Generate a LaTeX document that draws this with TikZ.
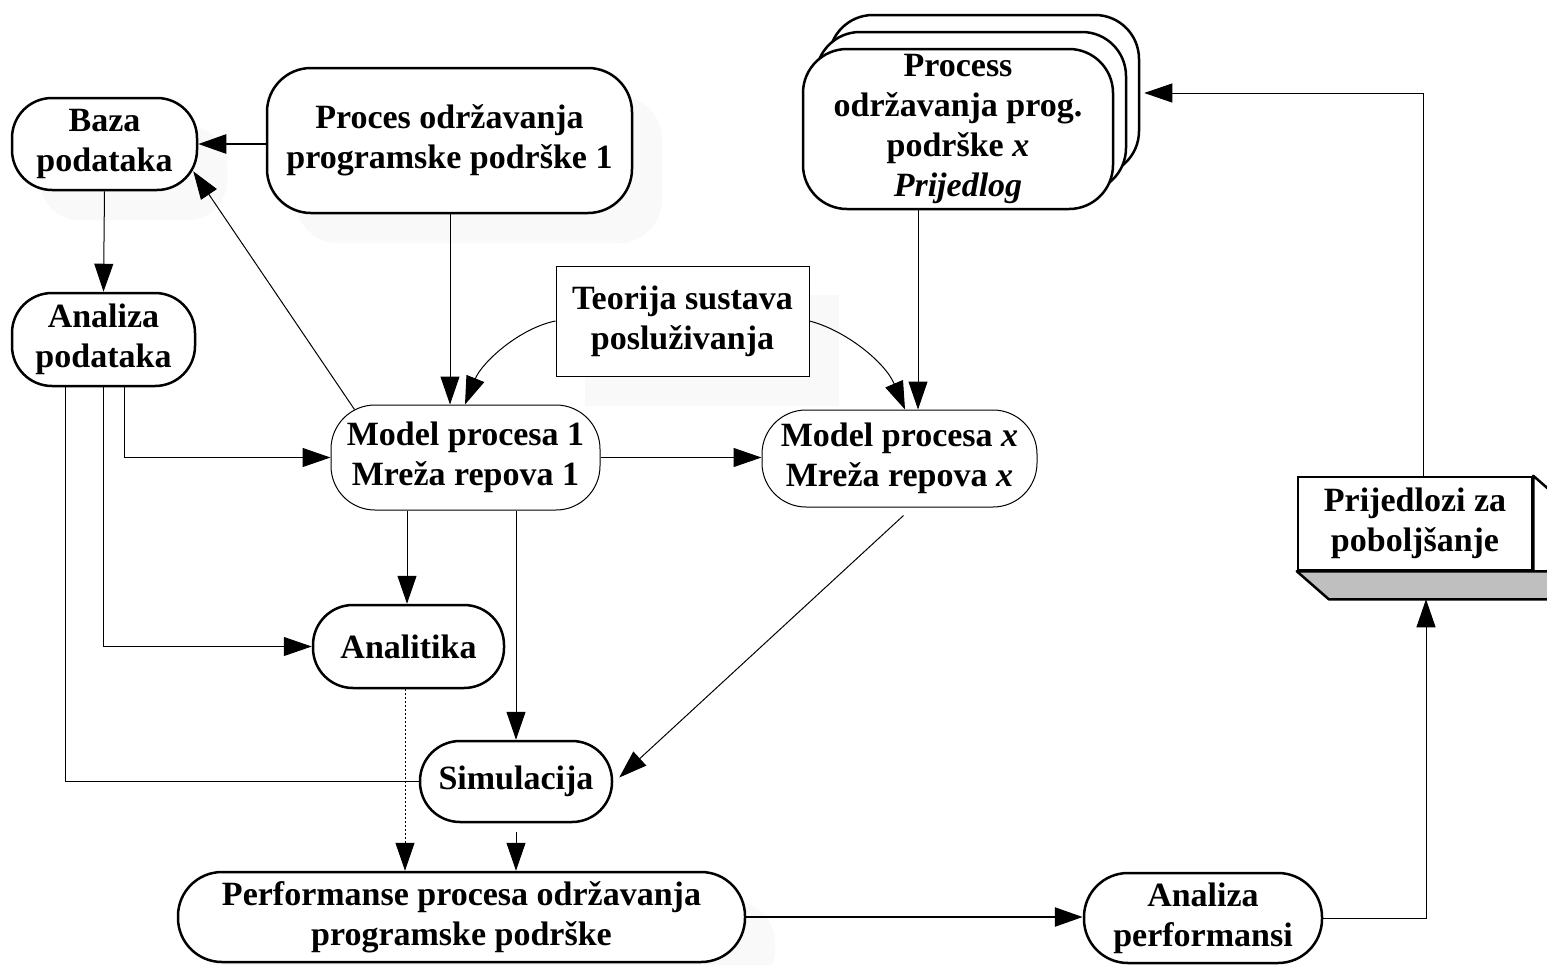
\documentclass[tikz,border=0pt]{standalone}
\usepackage{fontspec}
\setmainfont{Liberation Serif}
\usetikzlibrary{arrows.meta,backgrounds}
\begin{document}
\begin{tikzpicture}[x=0.5pt,y=-0.5pt,
  lbl/.style={font=\fontsize{17pt}{20pt}\selectfont\bfseries, align=center, inner sep=0pt},
  boxthick/.style={lbl, draw, fill=white, line width=1.25pt},
  boxthin/.style={lbl, draw, fill=white, line width=0.5pt},
  conn/.style={line width=0.5pt},
  conntk/.style={line width=1.25pt},
  arr/.style={-{Triangle[length=14pt,width=9.5pt]}},
  shadecol/.style={fill=black!2.5, draw=none},
]
\useasboundingbox (0,0) rectangle (1547,964);
\clip (0,0) rectangle (1547,964);

% process boxes
\node[boxthick, rounded corners=20pt, minimum width=92.5pt, minimum height=46pt] (baza) at (104.5,144) {Baza\\podataka};
\node[boxthick, rounded corners=22pt, minimum width=182.5pt, minimum height=72.5pt] (proc1) at (449.5,140.5) {Proces održavanja\\programske podrške 1};

% stacked proposal boxes
\node[boxthick, rounded corners=22pt, minimum width=155pt, minimum height=80pt] (back) at (984,95) {};
\node[boxthick, rounded corners=22pt, minimum width=155pt, minimum height=80pt] (mid) at (971,112) {};
\node[boxthick, rounded corners=22pt, minimum width=155pt, minimum height=80pt] (front) at (958,129) {Process\\održavanja prog.\\podrške \textit{x}\\\textit{Prijedlog}};

\node[boxthin, minimum width=126.5pt, minimum height=55pt] (teor) at (682.5,321) {Teorija sustava\\posluživanja};
\node[boxthick, rounded corners=20pt, minimum width=91.5pt, minimum height=46.5pt] (apod) at (103.5,339.5) {Analiza\\podataka};
\node[boxthin, rounded corners=22pt, minimum width=134.5pt, minimum height=52.5pt] (model1) at (465.5,457.5) {Model procesa 1\\Mreža repova 1};
\node[boxthin, rounded corners=22pt, minimum width=137.5pt, minimum height=48.5pt] (modelx) at (899.5,458.5) {Model procesa \textit{x}\\Mreža repova \textit{x}};
\node[boxthick, rounded corners=20pt, minimum width=95.5pt, minimum height=41.5pt] (analit) at (408.5,646.5) {Analitika};
\node[boxthick, rounded corners=20pt, minimum width=96pt, minimum height=40.5pt] (simul) at (516,781.5) {Simulacija};
\node[boxthick, rounded corners=22pt, minimum width=283.5pt, minimum height=45pt] (perf) at (461.5,917) {Performanse procesa održavanja\\programske podrške};
\node[boxthick, rounded corners=22pt, minimum width=119pt, minimum height=45pt] (aperf) at (1203,918) {Analiza\\performansi};
\node[boxthick, minimum width=117pt, minimum height=46.5pt] (prij) at (1415,523.5) {Prijedlozi za\\poboljšanje};

% soft shadows and the 3-D faces of the proposal box
\begin{scope}[on background layer]
  \fill[shadecol, rounded corners=20pt] ([shift={(29,29)}]baza.north west) rectangle ([shift={(29,29)}]baza.south east);
  \fill[shadecol, rounded corners=22pt] ([shift={(29,29)}]proc1.north west) rectangle ([shift={(29,29)}]proc1.south east);
  \fill[shadecol] ([shift={(29,29)}]teor.north west) rectangle ([shift={(29,29)}]teor.south east);
  \fill[shadecol, rounded corners=22pt] ([shift={(29,29)}]perf.north west) rectangle ([shift={(29,29)}]perf.south east);
  \draw[line width=1.25pt, fill=white, line join=round] (prij.north east) -- ++(32,28) -- ([shift={(32,0)}]prij.south east) -- (prij.south east) -- cycle;
  \draw[line width=1.25pt, fill=black!25, line join=round] (prij.south west) -- ([shift={(32,0)}]prij.south east) -- ++(0,28) -- ([shift={(32,28)}]prij.south west) -- cycle;
\end{scope}

% connectors
\draw[conntk,arr] (proc1.west |- baza.east) -- (baza.east);
\draw[conn,arr] ([shift={(24,5)}]model1.north west) -- ([shift={(-5,-20)}]baza.south east);
\draw[conn,arr] (baza.south) -- (apod.north);
\draw[conn,arr] (proc1.south -| 450,0) -- (model1.north -| 450,0);
\draw[conn,arr] (teor.west) .. controls (520,328) and (482,362) .. (model1.north -| 465,0);
\draw[conn,arr] (teor.east) .. controls (845,330) and (885,362) .. (modelx.north -| 905,0);
\draw[conn,arr] (front.south -| 918,0) -- (modelx.north -| 918,0);
\draw[conn,arr] (model1.east) -- (modelx.west |- model1.east);
\draw[conn,arr] (apod.south -| 124,0) |- (model1.west);
\draw[conn,arr] (apod.south -| 103,0) |- (analit.west);
\draw[conn] (apod.south -| 65,0) |- (simul.west);
\draw[conn,arr] (model1.south -| 407,0) -- (analit.north -| 407,0);
\draw[conn,arr] (model1.south -| 516,0) -- (simul.north);
\draw[conn,arr] ([shift={(4,8)}]modelx.south) -- ([shift={(6,-4)}]simul.east);
\draw[conn,arr,dash pattern=on 1pt off 1pt] (analit.south -| 405,0) -- (perf.north -| 405,0);
\draw[conn,arr,shorten <=4.5pt] (simul.south) -- (perf.north -| simul.south);
\draw[conntk,arr] (perf.east) -- (aperf.west |- perf.east);
\coordinate (prijbase) at ([shift={(11,28)}]prij.south);
\draw[conn,arr] (aperf.east) -| (prijbase);
\draw[conn,arr,shorten >=2pt] (prij.north -| 1423,0) |- (back.east |- 0,93);
\end{tikzpicture}
\end{document}
